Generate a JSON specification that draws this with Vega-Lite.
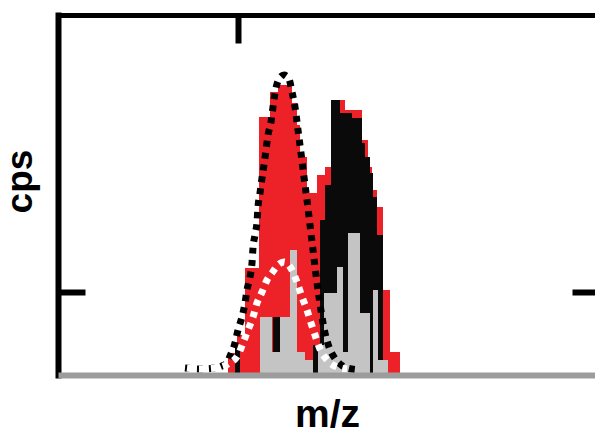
{
  "$schema": "https://vega.github.io/schema/vega-lite/v6.json",
  "width": 537,
  "height": 360,
  "autosize": "none",
  "padding": {"left": 58, "top": 15, "right": 0, "bottom": 59},
  "background": "white",
  "config": {"view": {"stroke": null}, "font": "Liberation Sans"},
  "datasets": {
    "hist": [
      {"series": "red", "mz_start": 228, "mz_end": 237, "cps": 22},
      {"series": "red", "mz_start": 237, "mz_end": 245, "cps": 40},
      {"series": "red", "mz_start": 245, "mz_end": 259, "cps": 107},
      {"series": "red", "mz_start": 259, "mz_end": 270, "cps": 258},
      {"series": "red", "mz_start": 270, "mz_end": 278, "cps": 283},
      {"series": "red", "mz_start": 278, "mz_end": 292, "cps": 290},
      {"series": "red", "mz_start": 292, "mz_end": 297, "cps": 272},
      {"series": "red", "mz_start": 297, "mz_end": 300, "cps": 250},
      {"series": "red", "mz_start": 300, "mz_end": 307, "cps": 218},
      {"series": "red", "mz_start": 307, "mz_end": 317, "cps": 182},
      {"series": "red", "mz_start": 317, "mz_end": 325, "cps": 200},
      {"series": "red", "mz_start": 325, "mz_end": 332, "cps": 208},
      {"series": "red", "mz_start": 332, "mz_end": 345, "cps": 275},
      {"series": "red", "mz_start": 345, "mz_end": 362, "cps": 265},
      {"series": "red", "mz_start": 362, "mz_end": 368, "cps": 235},
      {"series": "red", "mz_start": 368, "mz_end": 372, "cps": 208},
      {"series": "red", "mz_start": 372, "mz_end": 377, "cps": 185},
      {"series": "red", "mz_start": 377, "mz_end": 383, "cps": 168},
      {"series": "red", "mz_start": 383, "mz_end": 390, "cps": 85},
      {"series": "red", "mz_start": 390, "mz_end": 400, "cps": 23},
      {"series": "black", "mz_start": 235, "mz_end": 240, "cps": 28},
      {"series": "black", "mz_start": 273, "mz_end": 280, "cps": 58},
      {"series": "black", "mz_start": 313, "mz_end": 318, "cps": 30},
      {"series": "black", "mz_start": 320, "mz_end": 325, "cps": 155},
      {"series": "black", "mz_start": 325, "mz_end": 331, "cps": 190},
      {"series": "black", "mz_start": 331, "mz_end": 340, "cps": 275},
      {"series": "black", "mz_start": 340, "mz_end": 352, "cps": 262},
      {"series": "black", "mz_start": 352, "mz_end": 362, "cps": 257},
      {"series": "black", "mz_start": 362, "mz_end": 365, "cps": 232},
      {"series": "black", "mz_start": 365, "mz_end": 370, "cps": 218},
      {"series": "black", "mz_start": 370, "mz_end": 373, "cps": 202},
      {"series": "black", "mz_start": 373, "mz_end": 377, "cps": 178},
      {"series": "black", "mz_start": 377, "mz_end": 383, "cps": 140},
      {"series": "gray", "mz_start": 260, "mz_end": 272, "cps": 58},
      {"series": "gray", "mz_start": 272, "mz_end": 280, "cps": 23},
      {"series": "gray", "mz_start": 280, "mz_end": 290, "cps": 58},
      {"series": "gray", "mz_start": 290, "mz_end": 297, "cps": 125},
      {"series": "gray", "mz_start": 297, "mz_end": 305, "cps": 23},
      {"series": "gray", "mz_start": 305, "mz_end": 313, "cps": 15},
      {"series": "gray", "mz_start": 318, "mz_end": 324, "cps": 30},
      {"series": "gray", "mz_start": 324, "mz_end": 337, "cps": 82},
      {"series": "gray", "mz_start": 337, "mz_end": 343, "cps": 108},
      {"series": "gray", "mz_start": 343, "mz_end": 348, "cps": 23},
      {"series": "gray", "mz_start": 348, "mz_end": 360, "cps": 142},
      {"series": "gray", "mz_start": 360, "mz_end": 370, "cps": 62},
      {"series": "gray", "mz_start": 373, "mz_end": 378, "cps": 85},
      {"series": "gray", "mz_start": 378, "mz_end": 383, "cps": 15},
      {"series": "gray", "mz_start": 383, "mz_end": 388, "cps": 15}
    ],
    "fit": [
      {"curve": "total", "mz": 185, "cps": 7},
      {"curve": "total", "mz": 200, "cps": 6},
      {"curve": "total", "mz": 215, "cps": 7},
      {"curve": "total", "mz": 222, "cps": 9},
      {"curve": "total", "mz": 227, "cps": 12},
      {"curve": "total", "mz": 230, "cps": 19},
      {"curve": "total", "mz": 235, "cps": 32},
      {"curve": "total", "mz": 238, "cps": 45},
      {"curve": "total", "mz": 242, "cps": 58},
      {"curve": "total", "mz": 245, "cps": 72},
      {"curve": "total", "mz": 247, "cps": 85},
      {"curve": "total", "mz": 250, "cps": 98},
      {"curve": "total", "mz": 252, "cps": 112},
      {"curve": "total", "mz": 253, "cps": 127},
      {"curve": "total", "mz": 255, "cps": 140},
      {"curve": "total", "mz": 257, "cps": 153},
      {"curve": "total", "mz": 258, "cps": 168},
      {"curve": "total", "mz": 260, "cps": 182},
      {"curve": "total", "mz": 262, "cps": 197},
      {"curve": "total", "mz": 264, "cps": 210},
      {"curve": "total", "mz": 266, "cps": 225},
      {"curve": "total", "mz": 268, "cps": 240},
      {"curve": "total", "mz": 271, "cps": 253},
      {"curve": "total", "mz": 273, "cps": 268},
      {"curve": "total", "mz": 275, "cps": 282},
      {"curve": "total", "mz": 279, "cps": 296},
      {"curve": "total", "mz": 284, "cps": 300},
      {"curve": "total", "mz": 289, "cps": 296},
      {"curve": "total", "mz": 292, "cps": 283},
      {"curve": "total", "mz": 295, "cps": 268},
      {"curve": "total", "mz": 298, "cps": 245},
      {"curve": "total", "mz": 301, "cps": 222},
      {"curve": "total", "mz": 304, "cps": 198},
      {"curve": "total", "mz": 307, "cps": 175},
      {"curve": "total", "mz": 310, "cps": 150},
      {"curve": "total", "mz": 313, "cps": 125},
      {"curve": "total", "mz": 316, "cps": 100},
      {"curve": "total", "mz": 319, "cps": 78},
      {"curve": "total", "mz": 322, "cps": 58},
      {"curve": "total", "mz": 325, "cps": 42},
      {"curve": "total", "mz": 329, "cps": 28},
      {"curve": "total", "mz": 334, "cps": 18},
      {"curve": "total", "mz": 340, "cps": 11},
      {"curve": "total", "mz": 347, "cps": 7},
      {"curve": "total", "mz": 360, "cps": 5},
      {"curve": "component", "mz": 187, "cps": 7},
      {"curve": "component", "mz": 200, "cps": 6},
      {"curve": "component", "mz": 215, "cps": 7},
      {"curve": "component", "mz": 228, "cps": 11},
      {"curve": "component", "mz": 238, "cps": 20},
      {"curve": "component", "mz": 243, "cps": 32},
      {"curve": "component", "mz": 248, "cps": 45},
      {"curve": "component", "mz": 253, "cps": 58},
      {"curve": "component", "mz": 257, "cps": 72},
      {"curve": "component", "mz": 262, "cps": 83},
      {"curve": "component", "mz": 267, "cps": 95},
      {"curve": "component", "mz": 272, "cps": 102},
      {"curve": "component", "mz": 278, "cps": 110},
      {"curve": "component", "mz": 284, "cps": 113},
      {"curve": "component", "mz": 292, "cps": 105},
      {"curve": "component", "mz": 297, "cps": 93},
      {"curve": "component", "mz": 302, "cps": 78},
      {"curve": "component", "mz": 307, "cps": 65},
      {"curve": "component", "mz": 311, "cps": 52},
      {"curve": "component", "mz": 315, "cps": 40},
      {"curve": "component", "mz": 320, "cps": 26},
      {"curve": "component", "mz": 328, "cps": 14},
      {"curve": "component", "mz": 337, "cps": 8},
      {"curve": "component", "mz": 347, "cps": 6}
    ]
  },
  "layer": [
    {
      "data": {"name": "hist"},
      "mark": {"type": "rect"},
      "encoding": {
        "x": {
          "field": "mz_start", "type": "quantitative",
          "scale": {"domain": [58, 595], "nice": false, "zero": false},
          "axis": {
            "orient": "bottom", "zindex": 1, "domain": true, "domainColor": "#9c9c9c", "domainWidth": 6,
            "ticks": false, "labels": false, "grid": false,
            "title": "m/z", "titleFont": "Liberation Sans", "titleFontSize": 39, "titleFontWeight": "bold",
            "titleColor": "black", "titleBaseline": "alphabetic", "titleAlign": "center",
            "titleX": 269, "titleY": 51
          }
        },
        "x2": {"field": "mz_end"},
        "y": {
          "field": "cps", "type": "quantitative",
          "scale": {"domain": [0, 360], "nice": false},
          "axis": {
            "orient": "left", "domain": true, "domainColor": "black", "domainWidth": 6, "domainCap": "square",
            "values": [83], "ticks": true, "tickSize": -27, "tickWidth": 6, "tickColor": "black",
            "labels": false, "grid": false,
            "title": "cps", "titleFont": "Liberation Sans", "titleFontSize": 37, "titleFontWeight": "bold",
            "titleColor": "black", "titleAngle": 270, "titleBaseline": "alphabetic", "titleAlign": "center",
            "titleX": -27, "titleY": 166
          }
        },
        "y2": {"datum": 0},
        "color": {
          "field": "series", "type": "nominal",
          "scale": {"domain": ["red", "black", "gray"], "range": ["#ec2228", "#0a0a0a", "#c4c4c4"]},
          "legend": null
        }
      }
    },
    {
      "data": {"name": "fit"},
      "transform": [{"filter": "datum.curve === 'total'"}],
      "mark": {"type": "line", "stroke": "black", "strokeWidth": 7, "strokeDash": [6, 6], "strokeCap": "butt", "interpolate": "monotone"},
      "encoding": {
        "x": {
          "field": "mz", "type": "quantitative",
          "scale": {"domain": [58, 595], "nice": false, "zero": false},
          "axis": {
            "orient": "top", "domain": true, "domainColor": "black", "domainWidth": 5, "domainCap": "square",
            "values": [238], "ticks": true, "tickSize": -28, "tickWidth": 6, "tickColor": "black",
            "labels": false, "grid": false, "title": null
          }
        },
        "y": {
          "field": "cps", "type": "quantitative",
          "scale": {"domain": [0, 360], "nice": false},
          "axis": {
            "orient": "right", "domain": false,
            "values": [83], "ticks": true, "tickSize": -23, "tickWidth": 6, "tickColor": "black",
            "labels": false, "grid": false, "title": null
          }
        }
      }
    },
    {
      "data": {"name": "fit"},
      "transform": [{"filter": "datum.curve === 'component'"}],
      "mark": {"type": "line", "stroke": "white", "strokeWidth": 7, "strokeDash": [6, 6], "strokeCap": "butt", "interpolate": "monotone"},
      "encoding": {
        "x": {"field": "mz", "type": "quantitative", "scale": {"domain": [58, 595], "nice": false, "zero": false}, "axis": null},
        "y": {"field": "cps", "type": "quantitative", "scale": {"domain": [0, 360], "nice": false}, "axis": null}
      }
    }
  ],
  "resolve": {"axis": {"x": "independent", "y": "independent"}}
}
